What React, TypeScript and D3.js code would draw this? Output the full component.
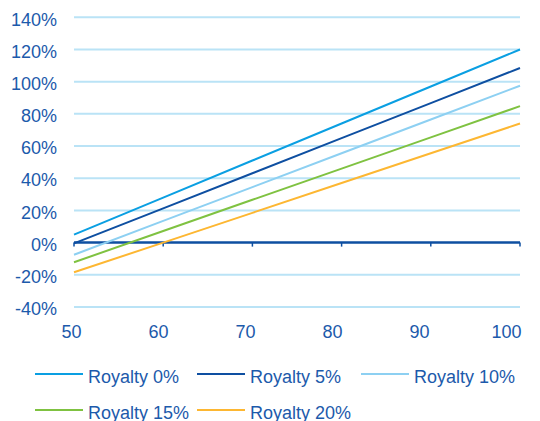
import React from "react";
import * as d3 from "d3";

const xValues = [50, 60, 70, 80, 90, 100];
const seriesNames = ["Royalty 0%", "Royalty 5%", "Royalty 10%", "Royalty 15%", "Royalty 20%"];
const royalty0 = [5, 28, 51, 74, 97, 120];
const royalty5 = [-0.5, 21.3, 43.1, 64.9, 86.7, 108.5];
const royalty10 = [-7.5, 13.5, 34.5, 55.5, 76.5, 97.5];
const royalty15 = [-12.2, 7.2, 26.6, 46, 65.4, 84.8];
const royalty20 = [-18.4, 0, 18.5, 37, 55.5, 74];
const seriesValues = [royalty0, royalty5, royalty10, royalty15, royalty20];
const yTicks = [-40, -20, 0, 20, 40, 60, 80, 100, 120, 140];
const xTicks = [50, 60, 70, 80, 90, 100];

const colors = ["#0A9FE2", "#0E4FA1", "#8DD0F2", "#7FC241", "#FDB732"];
const textColor = "#1C5AAB";
const gridColor = "#BAE3F6";
const font = "'Liberation Sans', Arial, sans-serif";

export default function App() {
  const W = 540, H = 421;
  const x = d3.scaleLinear().domain([50, 100]).range([74, 520]);
  const xLabel = d3.scaleLinear().domain([50, 100]).range([71.5, 506.5]);
  const y = d3.scaleLinear().domain([-40, 140]).range([307, 17.3]);
  const line = d3
    .line<number>()
    .x((_, i) => x(xValues[i]))
    .y((d) => y(d));

  const legendPos = [
    { lx: 35, ly: 374 },
    { lx: 197, ly: 374 },
    { lx: 361, ly: 374 },
    { lx: 35, ly: 410 },
    { lx: 197, ly: 410 },
  ];

  return (
    <svg width={W} height={H} style={{ position: "absolute", left: 0, top: 0 }} fontFamily={font}>
      <rect width={W} height={H} fill="#fff" />
      {yTicks.filter((t) => t !== 0).map((t) => (
        <line key={t} x1={x(50)} x2={x(100)} y1={y(t)} y2={y(t)} stroke={gridColor} strokeWidth={2} />
      ))}
      {yTicks.map((t) => (
        <text key={"yl" + t} x={57} y={y(t) + 8.2} textAnchor="end" fontSize={18} fill={textColor}>
          {t + "%"}
        </text>
      ))}
      {xTicks.map((t) => (
        <text key={"xl" + t} x={xLabel(t)} y={338} textAnchor="middle" fontSize={18} fill={textColor}>
          {t}
        </text>
      ))}
      <line x1={x(50)} x2={x(100)} y1={y(0)} y2={y(0)} stroke="#0E4FA1" strokeWidth={2.5} />
      {xTicks.map((t) => (
        <line key={"tk" + t} x1={x(t)} x2={x(t)} y1={y(0)} y2={y(0) + 4} stroke="#0E4FA1" strokeWidth={1.5} />
      ))}
      {seriesValues.map((vals, i) => (
        <path key={seriesNames[i]} d={line(vals) || ""} fill="none" stroke={colors[i]} strokeWidth={2} />
      ))}
      {seriesNames.map((name, i) => (
        <g key={"lg" + i}>
          <line
            x1={legendPos[i].lx}
            x2={legendPos[i].lx + 48}
            y1={legendPos[i].ly}
            y2={legendPos[i].ly}
            stroke={colors[i]}
            strokeWidth={2}
          />
          <text x={legendPos[i].lx + 53} y={legendPos[i].ly + 9} fontSize={18} fill={textColor}>
            {name}
          </text>
        </g>
      ))}
    </svg>
  );
}
